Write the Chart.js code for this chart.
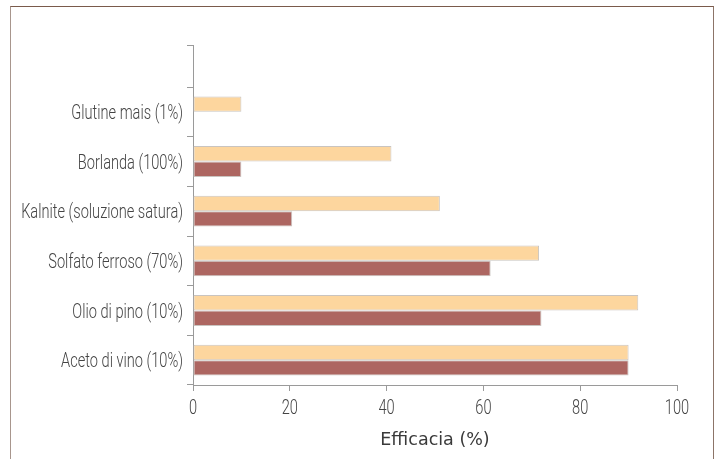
<!DOCTYPE html>
<html>
<head>
<meta charset="utf-8">
<script src="https://cdn.jsdelivr.net/npm/chart.js@4"></script>
<style>
  html, body { margin: 0; padding: 0; background: #fff; }
  #wrap { position: relative; width: 716px; height: 459px; overflow: hidden; }
  #frame {
    position: absolute; left: 10px; top: 6px; width: 704px; height: 470px;
    border-top: 1.5px solid #7a5a4b; border-right: 1.5px solid #8c7468;
    border-left: 1.5px solid #a8968d; box-sizing: border-box;
  }
  canvas { position: absolute; left: 0; top: 0; }
</style>
</head>
<body>
<div id="wrap">
  <div id="frame"></div>
  <canvas id="chart" width="716" height="459"></canvas>
</div>
<script>
const categories = ['Glutine mais (1%)', 'Borlanda (100%)', 'Kalnite (soluzione satura)', 'Solfato ferroso (70%)', 'Olio di pino (10%)', 'Aceto di vino (10%)'];
const seriesA = [10, 41, 51, 71.5, 92, 90];
const seriesB = [0, 10, 20.5, 61.5, 72, 90];
const xTicks = [0, 20, 40, 60, 80, 100];

const axisColor = '#9a9a9a';
const labelColor = '#444';
const labelFont = '300 20px Roboto, sans-serif';
const squeeze = 0.73;

// the y axis runs a bit above the first category, with one more tick
const axisExtension = {
  id: 'axisExtension',
  afterDraw(chart) {
    const { ctx, chartArea } = chart;
    const x = chartArea.left;
    const top = chartArea.top - 42;
    ctx.save();
    ctx.strokeStyle = axisColor;
    ctx.lineWidth = 1;
    ctx.beginPath();
    ctx.moveTo(x + 0.5, top);
    ctx.lineTo(x + 0.5, chartArea.top);
    ctx.moveTo(x - 6, top + 0.5);
    ctx.lineTo(x + 0.5, top + 0.5);
    ctx.stroke();
    ctx.restore();
  }
};

// tick labels in a tall condensed face: draw them narrowed
const condensedLabels = {
  id: 'condensedLabels',
  afterDraw(chart) {
    const { ctx, chartArea } = chart;
    const xs = chart.scales.x, ys = chart.scales.y;
    ctx.save();
    ctx.font = labelFont;
    ctx.fillStyle = labelColor;
    ctx.textBaseline = 'middle';
    ctx.textAlign = 'right';
    ys.ticks.forEach((t, i) => {
      ctx.save();
      ctx.translate(chartArea.left - 10, ys.getPixelForTick(i) + 2);
      ctx.scale(squeeze, 1);
      ctx.fillText(ys.getLabelForValue(t.value), 0, 0);
      ctx.restore();
    });
    ctx.textAlign = 'center';
    xs.ticks.forEach((t, i) => {
      ctx.save();
      ctx.translate(xs.getPixelForTick(i), chartArea.bottom + 24);
      ctx.scale(squeeze, 1);
      ctx.fillText(String(t.value), 0, 0);
      ctx.restore();
    });
    ctx.restore();
  }
};

new Chart(document.getElementById('chart').getContext('2d'), {
  type: 'bar',
  data: {
    labels: categories,
    datasets: [
      {
        data: seriesA,
        backgroundColor: '#fdd69e',
        borderColor: '#c9c4c0',
        borderWidth: 1,
        borderSkipped: false,
        categoryPercentage: 0.62,
        barPercentage: 1
      },
      {
        data: seriesB,
        backgroundColor: '#ad6661',
        borderColor: '#c9c4c0',
        borderWidth: 1,
        borderSkipped: false,
        categoryPercentage: 0.62,
        barPercentage: 1
      }
    ]
  },
  options: {
    indexAxis: 'y',
    responsive: false,
    animation: false,
    layout: { padding: { top: 87, right: 39, bottom: 0, left: 0 } },
    plugins: { legend: { display: false }, tooltip: { enabled: false } },
    scales: {
      x: {
        min: 0,
        max: 100,
        afterBuildTicks: (scale) => { scale.ticks = xTicks.map(v => ({ value: v })); },
        afterFit: (scale) => { scale.height = 74; },
        border: { color: axisColor, width: 1 },
        grid: { drawOnChartArea: false, drawTicks: true, tickLength: 6, color: axisColor },
        ticks: { color: 'rgba(0,0,0,0)', padding: 10, font: { size: 14 } },
        title: {
          display: true,
          text: 'Efficacia (%)',
          color: '#3a3a3a',
          padding: { top: 4, bottom: 8 },
          font: { family: '"DejaVu Sans", sans-serif', size: 17.5 }
        }
      },
      y: {
        afterFit: (scale) => { scale.width = 193; },
        border: { color: axisColor, width: 1 },
        grid: { drawOnChartArea: false, drawTicks: true, tickLength: 6, color: axisColor },
        ticks: { color: 'rgba(0,0,0,0)', padding: 4, font: { size: 14 } }
      }
    }
  },
  plugins: [axisExtension, condensedLabels]
});
</script>
</body>
</html>
